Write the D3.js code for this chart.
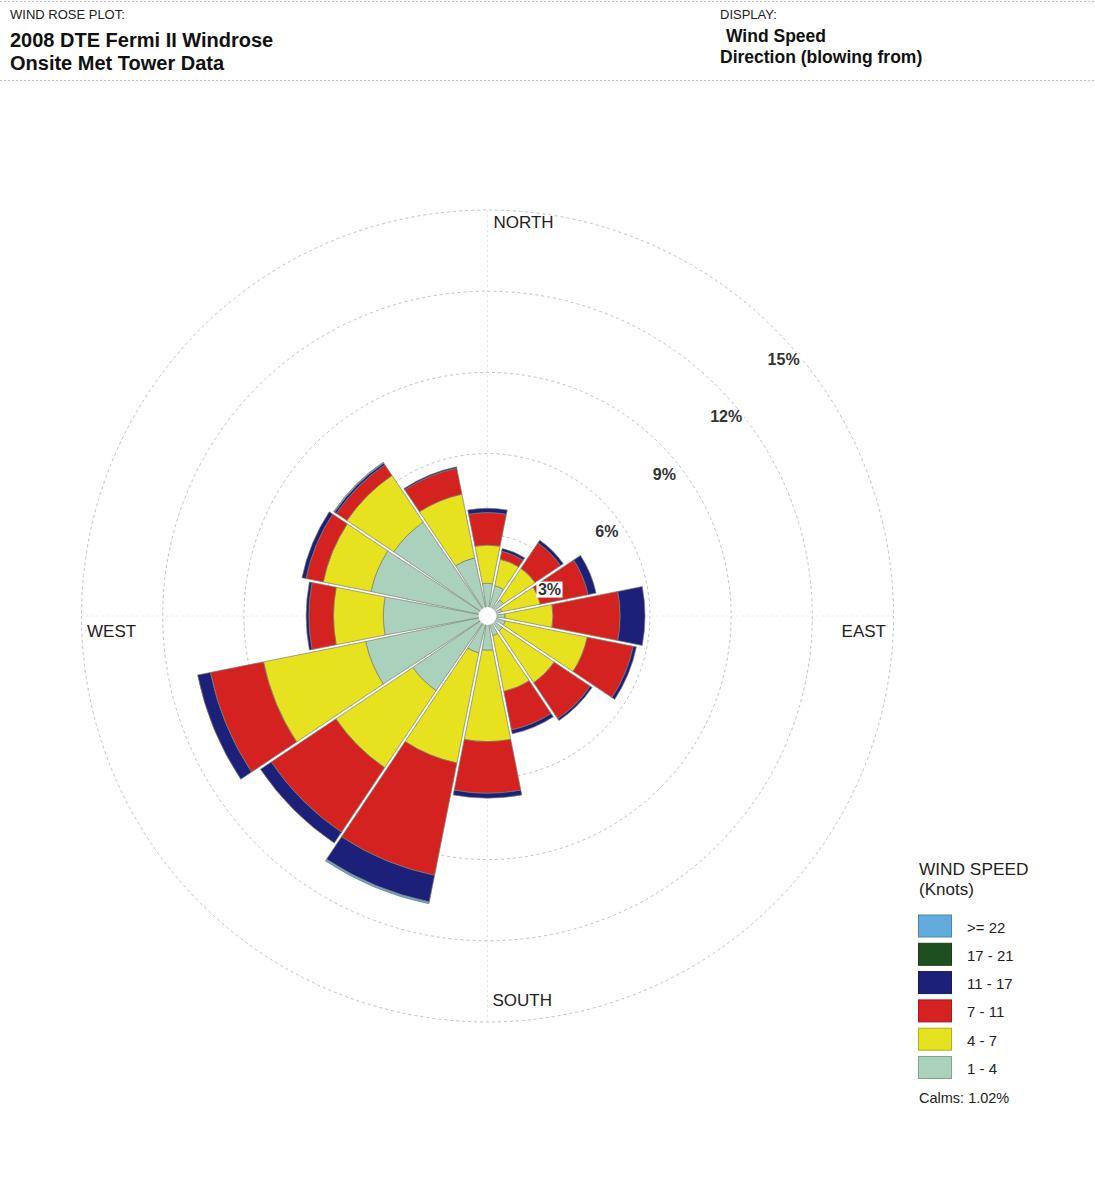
<!DOCTYPE html>
<html>
<head>
<meta charset="utf-8">
<script src="https://cdn.jsdelivr.net/npm/d3@7"></script>
<style>
  html, body { margin: 0; padding: 0; background: #fff; }
  svg { display: block; font-family: "Liberation Sans", Arial, sans-serif; }
</style>
</head>
<body>
<svg id="rose" width="1095" height="1180"></svg>
<script>
// Wind directions (blowing from), clockwise from north
const directions = ["N","NNE","NE","ENE","E","ESE","SE","SSE","S","SSW","SW","WSW","W","WNW","NW","NNW"];

// Speed classes (knots), inner to outer
const speedBins = ["1 - 4", "4 - 7", "7 - 11", "11 - 17", "17 - 21", ">= 22"];
const binColors = ["#a9d1bb", "#e6e21f", "#d42220", "#1d2078", "#1e4f20", "#64abdd"];

// Frequency (% of hours) per direction for each speed class
const speed1to4   = [1.21, 1.15, 0.75, 0.55, 0.65, 0.68, 0.70, 0.75, 1.27, 1.40, 3.35, 4.60, 3.85, 4.40, 4.20, 2.20];
const speed4to7   = [1.41, 1.00, 1.40, 1.45, 1.77, 3.09, 2.30, 2.10, 3.37, 4.15, 3.42, 3.85, 1.84, 1.80, 2.08, 2.40];
const speed7to11  = [1.20, 0.30, 1.13, 1.80, 2.48, 1.73, 1.60, 1.45, 1.91, 4.23, 2.87, 2.00, 0.91, 0.65, 0.47, 0.98];
const speed11to17 = [0.16, 0.10, 0.12, 0.30, 0.92, 0.12, 0.08, 0.15, 0.18, 1.00, 0.48, 0.48, 0.10, 0.15, 0.08, 0.05];
const speed17to21 = [0.00, 0.00, 0.00, 0.00, 0.00, 0.00, 0.00, 0.00, 0.00, 0.00, 0.00, 0.00, 0.00, 0.00, 0.00, 0.00];
const speed22plus = [0.00, 0.00, 0.00, 0.00, 0.00, 0.00, 0.00, 0.00, 0.00, 0.07, 0.00, 0.00, 0.00, 0.00, 0.04, 0.00];

const ringTicks = [3, 6, 9, 12, 15];
const calmsPct = 1.02;

const svg = d3.select("#rose");
const W = 1095;
const cx = 487.5, cy = 616, R = 406;

// ---- header ----
const header = svg.append("g");
[1.5, 80.5].forEach(y => header.append("line")
  .attr("x1", 0).attr("x2", W).attr("y1", y).attr("y2", y)
  .attr("stroke", "#c4c4c4").attr("stroke-dasharray", "2,2"));
header.append("text").attr("x", 10).attr("y", 18.5).attr("font-size", 13).attr("fill", "#222").text("WIND ROSE PLOT:");
header.append("text").attr("x", 10).attr("y", 46.5).attr("font-size", 20).attr("font-weight", "bold").attr("fill", "#111").text("2008 DTE Fermi II Windrose");
header.append("text").attr("x", 10).attr("y", 70).attr("font-size", 20).attr("font-weight", "bold").attr("fill", "#111").text("Onsite Met Tower Data");
header.append("text").attr("x", 720).attr("y", 18.5).attr("font-size", 13).attr("fill", "#222").text("DISPLAY:");
header.append("text").attr("x", 726).attr("y", 42).attr("font-size", 17.5).attr("font-weight", "bold").attr("fill", "#111").text("Wind Speed");
header.append("text").attr("x", 720).attr("y", 63).attr("font-size", 17.5).attr("font-weight", "bold").attr("fill", "#111").text("Direction (blowing from)");

// ---- scales ----
const rScale = d3.scaleLinear().domain([0, 15]).range([0, R]);
const aScale = d3.scaleBand().domain(directions)
  .range([-Math.PI / 16, 2 * Math.PI - Math.PI / 16]).padding(0);

const plot = svg.append("g").attr("transform", `translate(${cx},${cy})`);

// grid: dotted rings and cross axes
plot.append("g").selectAll("circle").data(ringTicks).join("circle")
  .attr("r", d => rScale(d))
  .attr("fill", "none").attr("stroke", "#bcc1c8").attr("stroke-width", 1)
  .attr("stroke-dasharray", "3,3");
plot.append("line").attr("x1", -R).attr("x2", R).attr("y1", 0).attr("y2", 0)
  .attr("stroke", "#e0e2e6").attr("stroke-dasharray", "2,3");
plot.append("line").attr("y1", -R).attr("y2", R).attr("x1", 0).attr("x2", 0)
  .attr("stroke", "#e0e2e6").attr("stroke-dasharray", "2,3");

// stacked petals
const seriesByBin = [speed1to4, speed4to7, speed7to11, speed11to17, speed17to21, speed22plus];
const rows = directions.map((dir, i) => {
  const row = { dir };
  speedBins.forEach((b, j) => row[b] = seriesByBin[j][i]);
  return row;
});
const stacked = d3.stack().keys(speedBins)(rows);
const color = d3.scaleOrdinal().domain(speedBins).range(binColors);

const arc = d3.arc()
  .innerRadius(d => rScale(d[0]))
  .outerRadius(d => rScale(d[1]))
  .startAngle(d => aScale(d.data.dir))
  .endAngle(d => aScale(d.data.dir) + aScale.bandwidth())
  .padAngle(0.026).padRadius(100);

plot.append("g").selectAll("g").data(stacked).join("g")
  .attr("fill", s => color(s.key))
  .selectAll("path").data(s => s.filter(d => d[1] - d[0] > 0)).join("path")
  .attr("d", arc)
  .attr("stroke", "#7d7d70").attr("stroke-width", 0.7).attr("stroke-linejoin", "round");

// calm centre
plot.append("circle").attr("r", 9).attr("fill", "#fff");

// ring labels along the north-east diagonal
const ringLabels = plot.append("g");
ringTicks.forEach(v => {
  const r = rScale(v);
  const g = ringLabels.append("g");
  const t = g.append("text")
    .attr("x", r * Math.SQRT1_2 - 7).attr("y", -r * Math.SQRT1_2 + 36)
    .attr("font-size", 16).attr("font-weight", "bold").attr("fill", "#333")
    .text(v + "%");
  const bb = t.node().getBBox();
  g.insert("rect", "text").attr("x", bb.x - 1.5).attr("y", bb.y + 1).attr("width", bb.width + 3).attr("height", bb.height - 1)
    .attr("fill", "#fff");
});

// compass labels
const compass = plot.append("g").attr("font-size", 17).attr("fill", "#222");
compass.append("text").attr("x", 6).attr("y", -R + 18).text("NORTH");
compass.append("text").attr("x", 5).attr("y", R - 16).text("SOUTH");
compass.append("text").attr("x", -R + 5.5).attr("y", 21).text("WEST");
compass.append("text").attr("x", R - 7.5).attr("y", 21).attr("text-anchor", "end").text("EAST");

// ---- legend ----
const legend = svg.append("g").attr("transform", "translate(918.5,0)");
legend.append("text").attr("x", 0.5).attr("y", 875).attr("font-size", 17.3).attr("fill", "#222").text("WIND SPEED");
legend.append("text").attr("x", 0.5).attr("y", 894.5).attr("font-size", 17).attr("fill", "#222").text("(Knots)");
const legendBins = speedBins.slice().reverse();
const items = legend.selectAll("g.item").data(legendBins).join("g").attr("class", "item")
  .attr("transform", (d, i) => `translate(0,${915 + i * 28.3})`);
items.append("rect").attr("width", 33).attr("height", 22)
  .attr("fill", d => color(d))
  .attr("stroke", d => d3.color(color(d)).darker(0.7)).attr("stroke-width", 1);
items.append("text").attr("x", 48.5).attr("y", 17.5).attr("font-size", 15).attr("fill", "#222").text(d => d);
legend.append("text").attr("x", 0.5).attr("y", 1103).attr("font-size", 14.5).attr("fill", "#222")
  .text("Calms: " + calmsPct.toFixed(2) + "%");
</script>
</body>
</html>
